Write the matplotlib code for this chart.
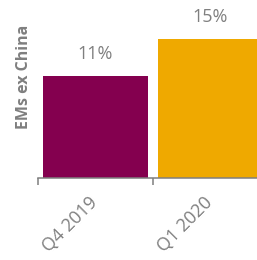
import matplotlib
matplotlib.use("Agg")
import matplotlib.pyplot as plt

categories = ["Q4 2019", "Q1 2020"]
values = [11, 15]
labels = ["11%", "15%"]
colors = ["#84004F", "#EFA900"]
ylabel = "EMs ex China"

plt.rcParams['font.family'] = ['Open Sans', 'DejaVu Sans']
grey = "#7F7F7F"

fig = plt.figure(figsize=(2.57, 2.60), dpi=100)
ax = fig.add_axes([37.7/257, 82.5/260, 230/257, 177.5/260])
x = list(range(len(categories)))
ax.bar(x, values, width=0.91, color=colors)
ax.set_xlim(-0.5, len(categories) - 0.5)
ax.set_ylim(0, 19.2)

for xi, v, lab in zip(x, values, labels):
    ax.annotate(lab, (xi, v), xytext=(0, 15.5), textcoords="offset points",
                ha="center", va="center", fontsize=13, color=grey)

for s in ["top", "right", "left"]:
    ax.spines[s].set_visible(False)
ax.spines["bottom"].set_color(grey)
ax.spines["bottom"].set_linewidth(1.1)
ax.set_yticks([])
ax.set_xticks([i - 0.5 for i in range(len(categories) + 1)])
ax.set_xticklabels([])
ax.tick_params(axis="x", which="major", length=5, width=1.1, color=grey, direction="out")
ax.set_xticks(x, minor=True)
ax.set_xticklabels(categories, minor=True, rotation=45, ha="right", va="center",
                   rotation_mode="anchor", fontsize=13, color=grey)
ax.tick_params(axis="x", which="minor", length=0, pad=16)

fig.text(24.5/257, 1 - 77/260, ylabel, rotation=90, ha="center", va="center",
         fontsize=11.5, fontweight="bold", color=grey)

fig.savefig("out.png", dpi=100)
